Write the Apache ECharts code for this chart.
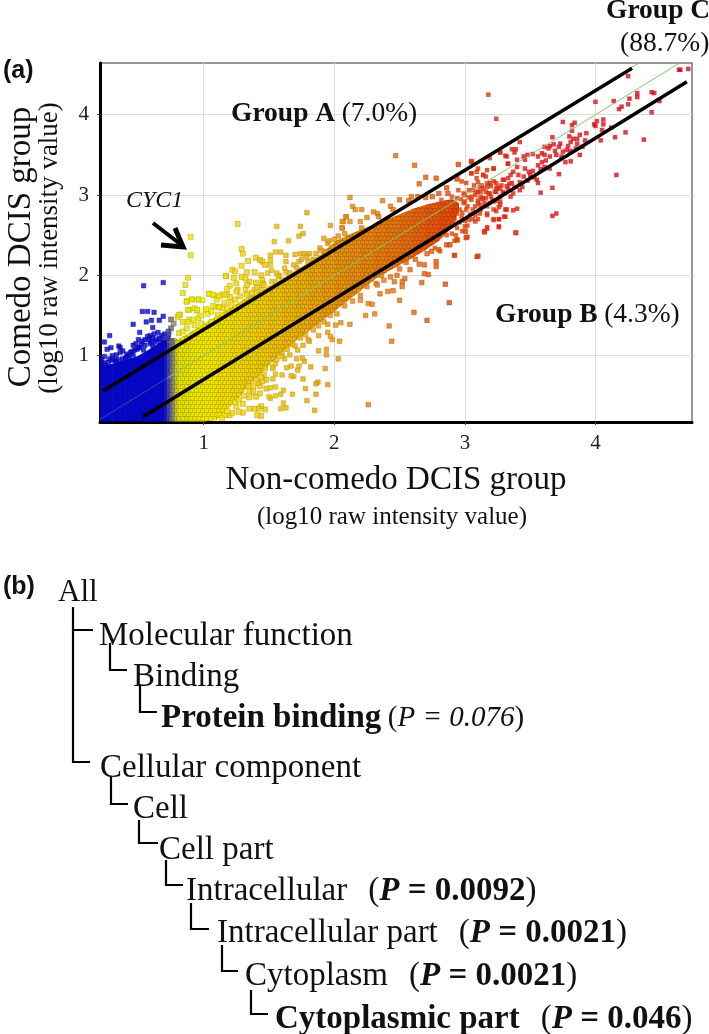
<!DOCTYPE html>
<html><head><meta charset="utf-8">
<style>html,body{margin:0;padding:0;background:#fff}#c{width:709px;height:1034px}</style>
<script src="https://cdn.jsdelivr.net/npm/echarts@6/dist/echarts.min.js"></script>
</head><body><div id="c"></div>
<script>
const tickValues=[1,2,3,4];
const xLimits=[0.206,4.739], yLimits=[0.174,4.644];
// extents of the solid part of the cloud, read column by column
const cloudX=[.206,.3,.4,.5,.6,.7,.72,.74,.76,.78,.8,.9,1,1.1,1.2,1.3,1.4,1.5,1.6,1.7,1.8,1.9,2,2.1,2.2,2.3,2.4,2.5,2.6,2.7,2.8,2.9,2.95];
const cloudLow=[.18,.18,.18,.18,.18,.18,.18,.18,.18,.18,.18,.18,.18,.2,.36,.54,.72,.88,1.04,1.18,1.3,1.43,1.55,1.68,1.81,1.94,2.04,2.13,2.22,2.32,2.43,2.6,2.8];
const cloudHigh=[.87,.9,.95,1,1.1,1.2,1.23,1.22,1.22,1.22,1.2,1.3,1.4,1.5,1.6,1.7,1.78,1.86,1.96,2.06,2.16,2.27,2.42,2.5,2.57,2.63,2.7,2.76,2.83,2.88,2.92,2.95,2.9];
// individually visible genes
const blueDots=[[.54,1.87],[.69,1.91],[.53,1.55],[.57,1.55],[.62,1.54],[.46,1.39],[.56,1.42],[.60,1.44],[.66,1.44],[.69,1.49],[.61,1.35],[.28,1.25],[.51,1.29],[.24,1.17],[.29,1.10],[.26,1.08],[.35,1.12],[.36,1.10],[.24,.99],[.36,1.04],[.46,1.13],[.50,1.20],[.59,1.25],[.65,1.29],[.48,1.15],[.44,1.04],[.51,1.10],[.54,1.07],[.58,1.20],[.61,1.22],[.68,1.25],[.33,1.01],[.28,.96],[.40,.97],[.46,1.01],[.55,1.13],[.59,1.15],[.64,1.20],[.69,1.20],[.70,1.13],[.61,1.12],[.24,.91],[.32,.95],[.49,1.08],[.42,.99],
[.22,.9],[.25,.88],[.27,.92],[.3,.94],[.33,.93],[.35,.95],[.38,.96],[.41,1.02],[.43,1],[.45,1.05],[.47,1.07],[.5,1.1],[.52,1.14],[.53,1.18],[.55,1.2],[.57,1.24],[.6,1.18],[.62,1.27],[.63,1.17],[.66,1.22],[.67,1.17],[.7,1.27],[.38,1.06],[.3,1],[.22,.95]];
const greyDots=[[.75,1.45],[.77,1.40],[.73,1.26],[.75,1.34],[.75,1.18],[.72,1.22],[.73,1.30]];
const yellowDots=[[.90,2.48],[.90,2.25],[.88,1.97],[.86,1.88],[.84,1.78],[1.17,1.99],[.87,1.68],[.91,1.70],[.96,1.70],[.99,1.69],[1.04,1.77],[1.08,1.75],[1.10,1.70],[1.14,1.76],[1.18,1.76],[1.02,1.57],[1.09,1.61],[1.14,1.59],[1.11,1.51],[1.18,1.59],[.89,1.57],[.93,1.59],[.95,1.56],[.82,1.51],[.80,1.48],[.84,1.42],[.89,1.45],[.96,1.47],[.98,1.40],[1.06,1.42],[.87,1.34],[.93,1.38],[.81,1.28],[1.26,2.64],[1.29,2.33],[1.30,2.27],[1.34,2.18],[1.40,2.22],[1.43,2.19],[1.45,2.17],[1.47,2.13],[1.29,2.12],[1.22,2.07],[1.24,2.05],[1.17,1.99],[1.23,1.97],[1.33,2.04],[1.39,2.04],[1.44,2.00],[1.29,1.98],[1.25,1.90],[1.35,1.92],[1.40,1.91],[1.45,1.94],[1.45,1.90],[1.32,1.96],[1.33,1.88],[1.20,1.87],[1.18,1.83],[1.26,1.82],[1.32,1.82],[1.39,1.82],[1.44,1.82],[1.04,1.77],[.96,1.70],[.91,1.70],[.87,1.67],[1.07,1.76],[1.12,1.74],[1.16,1.76],[1.20,1.73],[1.25,1.80],[1.07,1.62],[1.12,1.61],[.88,1.57],[.95,1.57],[1.02,1.58],[.81,1.51],[1.12,.26],[1.19,.26],[1.20,.26],[1.16,.26],[1.30,.29],[1.27,.30],[1.25,.37],[1.35,.48],[1.40,.49],[1.43,.53],[1.43,.62],[1.38,.62],[1.34,.62],[1.47,.33],[1.44,.37],[1.42,.34],[1.39,.34],[1.35,.34],[1.44,.25],[1.41,.26],[1.48,.59],[1.48,.70],[1.46,.76],[1.47,.84],
[1.14,.22],[1.18,.31],[1.22,.29],[1.24,.42],[1.27,.45],[1.3,.40],[1.31,.5],[1.35,.56],[1.38,.55],[1.42,.66],[1.45,.68],[1.44,.73],[1.4,.7],[.84,1.3],[.88,1.42],[.92,1.45],[.98,1.5],[1.03,1.52],[1.06,1.55],[1.12,1.6],[1.16,1.66],[1.21,1.66],[1.24,1.7],[1.28,1.74],[1.33,1.76],[1.37,1.78],[1.41,1.85],[1.46,1.88]];
const orangeDots=[[1.56,2.61],[1.74,2.61],[1.79,2.78],[1.76,2.52],[1.73,2.49],[1.97,2.62],[1.54,2.42],[1.65,2.43],[1.92,2.46],[2.07,2.67],[2.09,2.73],[2.06,2.59],[2.08,2.52],[2.03,2.49],[2.00,2.45],[1.51,2.25],[1.51,2.19],[1.51,2.13],[1.55,2.29],[1.59,2.29],[1.63,2.25],[1.63,2.17],[1.70,2.26],[1.74,2.27],[1.77,2.27],[1.73,2.17],[1.80,2.17],[1.81,2.27],[1.86,2.27],[1.89,2.34],[1.95,2.40],[1.96,2.43],[1.49,2.03],[1.52,2.06],[1.56,2.03],[1.62,2.09],[1.63,2.04],[1.71,2.10],[1.55,1.92],[1.60,1.94],[1.51,1.84],
[1.52,1.92],[1.58,2],[1.66,2.03],[1.69,2.13],[1.75,2.2],[1.79,2.23],[1.84,2.2],[1.9,2.31],[1.93,2.3],[1.57,1.99],[1.53,.86],[1.56,.95],[1.6,1.03],[1.64,1.08],[1.68,1.14],[1.74,1.22],[1.78,1.26],[1.84,1.32],[1.88,1.37],[1.92,1.42],[1.97,1.5],[2.02,1.52],[2.08,1.62],[2.14,1.68],[2.2,1.75],[2.25,1.86],[2.32,1.9],[2.36,2],[2.43,1.98],[2.5,2.08],[2.55,2.16],[2.62,2.2],[1.55,.9],[1.62,.96],[1.7,1.12],[1.8,1.2],
[2.26,.39],[1.85,.32],[1.79,.44],[1.86,.52],[1.95,.64],[1.875,.67],[1.86,.65],[1.78,.59],[1.68,.52],[1.63,.35],[1.59,.34],[1.61,.41],[1.55,.50],[1.51,.47],[1.50,.49],[1.59,.52],[1.61,.57],[1.55,.61],[1.51,.60],[1.76,.71],[1.69,.74],[1.67,.75],[1.60,.76],[1.55,.77],[1.53,.71],[1.53,.84],[1.60,.99],[1.635,.85],[1.67,.87],[1.72,.82],[1.73,.87],[1.82,.86],[1.93,.84],[2.03,.96],[1.94,1.01],[1.88,1.06],[1.94,1.08],[1.77,.93],[1.755,.97],[1.71,.96],[1.66,1.01],[1.72,1.07],[2.04,1.18],[1.985,1.20],[1.97,1.24],[1.95,1.29],[1.88,1.25],[1.81,1.18],[1.76,1.13],[2.12,1.39],[2.05,1.41],[2.01,1.38],[1.95,1.39],[2.24,1.50],[2.31,1.52],[2.42,1.37],[2.44,1.18],[2.20,1.69],[2.26,1.65],[2.29,1.64],[2.71,1.44],[2.61,1.54],[2.50,1.69],[2.88,1.66],[2.85,1.89],[2.67,1.91],[2.52,1.86],[2.41,1.80],[2.45,1.81],[2.35,1.77],[2.52,1.92],[2.46,1.92],[2.54,1.96],[2.69,2.02],[2.72,2.01],[2.48,2.00],[2.38,1.94],[2.33,1.88],[2.78,2.11],[2.78,2.17],[2.69,2.13],[2.65,2.14],[2.58,2.07],[2.92,2.25],[3.10,2.24],[2.80,2.32],[2.86,2.38],[2.885,2.38],[2.745,2.30],[2.71,2.27],[3.01,2.47],[3.005,2.55],[3.15,2.54],[3.39,2.53],[2.94,2.44],
[2.47,3.49],[2.615,3.37],[2.95,3.38],[3.05,3.42],[2.70,3.22],[2.78,3.21],[2.65,3.14],[2.12,2.97],[2.14,2.86],[2.16,2.82],[2.21,2.82],[2.37,2.93],[2.50,2.94],[2.43,2.86],[2.45,2.82],[2.30,2.79],[2.33,2.77],[2.34,2.73],[2.09,2.73],[2.12,2.67],[2.20,2.67],[2.25,2.72],[2.06,2.67],[2.06,2.59],[2.21,2.59],[2.59,2.98],[2.64,2.98],[2.57,2.93],[2.70,2.97],[2.75,2.98],[2.80,3.02],[2.86,3.09],[2.87,3.02],[2.94,3.20]];
const redDots=[[3.05,3.27],[3.14,3.25],[3.22,3.33],[3.17,3.31],[3.27,3.53],[3.33,3.39],[3.31,3.49],[2.975,3.17],[3.01,3.15],[3.09,3.21],[3.10,3.04],[3.20,3.11],[3.27,2.98],[3.31,2.82],[3.31,2.73],[3.26,2.70],[3.22,2.70],[3.26,2.61],[3.17,2.60],[3.15,2.55],[3.02,2.48],[2.94,2.45],[2.92,2.43],[2.92,2.25],[3.09,2.23],[2.81,2.30],[2.77,2.34],[2.99,3.02],[3.03,3.06],[3.08,3.0],[3.115,3.10],[3.17,3.15],[3.24,3.15],[3.29,3.19],[3.32,3.11],[3.19,3.02],[3.14,2.96],[3.24,3.04],[3.29,3.04],[3.115,2.88],[3.17,2.86],[3.22,2.92],[3.08,2.86],[3.01,2.82],[3.08,2.75],[3.115,2.77],[3.17,2.75],[3.03,2.69],[3.08,2.67],[3.0,2.61],[2.94,2.96],[2.99,2.90],[2.91,2.88],[2.94,2.77],[2.975,2.73],[2.91,2.67],[2.94,2.59],[2.86,2.50],[2.90,2.52],[3.05,2.94],[2.95,3.06],[2.90,2.98],[2.82,2.94],[2.86,2.84],[2.81,2.75],[3.27,2.88],[3.22,2.82],
[2.96,2.82],[2.98,2.78],[2.97,2.95],[3,2.92],[3.02,2.86],[3.04,2.76],[3.06,2.82],[3,2.68],[3.02,2.62],[3.06,2.7],[3.1,2.9],[3.12,2.82],[3.1,2.7],[3.13,2.95],[3,3],[3.03,2.97],[2.96,2.66],[2.93,2.5],[2.98,2.55],[2.92,2.7],[3.07,3.12],[3.1,3.16],[3.13,3.12],[3.16,3.04],[3.2,2.98],[3.25,3.1],[3.28,3.12],[3.12,3.04],[3.16,2.96],[3.19,2.9],[3.06,3.06],[3.1,2.93],[3.24,2.93],[3.27,3.08],[3.33,3.08],[3.36,3.15],[3.38,3.1],[3.42,3.16],[3.34,3.14],[3.44,3.1],[3.48,3.18],[3.52,3.3],[3.53,3.22],[3.58,3.32],[3.62,3.43],[3.69,3.55],[3.7,3.5],[3.72,3.6],[3.85,3.58],[3.9,3.6],
[4.71,4.57],[4.65,4.56],[4.64,4.56],[4.25,4.48],[4.43,4.28],[4.45,4.27],[4.32,4.27],[4.32,4.22],[4.26,4.20],[4.25,4.13],[4.14,4.17],[4.00,4.16],[4.49,4.17],[4.43,4.03],[4.20,4.10],[4.18,4.07],[3.18,4.25],[3.24,3.95],[3.75,3.91],[3.84,3.90],[3.82,3.87],[3.82,3.80],[4.01,3.92],[4.06,3.94],[4.06,3.88],[3.99,3.88],[4.00,3.86],[4.05,3.81],[4.12,3.84],[4.23,3.78],[4.15,3.72],[4.04,3.68],[4.37,3.69],[4.16,3.25],[3.93,3.77],[3.92,3.68],[3.88,3.75],[3.86,3.70],[3.83,3.70],[3.80,3.73],[3.81,3.66],[3.86,3.64],[3.79,3.61],[3.75,3.54],[3.78,3.56],[3.81,3.55],[3.67,3.72],[3.73,3.64],[3.68,3.63],[3.65,3.61],[3.61,3.60],[3.64,3.58],[3.59,3.52],[3.56,3.48],[3.61,3.50],[3.65,3.48],[3.59,3.41],[3.56,3.37],[3.61,3.35],[3.65,3.33],[3.72,3.26],[3.81,3.42],[3.77,3.41],[3.74,3.48],[3.88,3.50],[3.42,3.66],[3.36,3.57],[3.39,3.57],[3.38,3.53],[3.27,3.53],[3.19,3.46],[3.32,3.48],[3.45,3.48],[3.48,3.50],[3.52,3.51],[3.46,3.44],[3.40,3.44],[3.33,3.39],[3.40,3.35],[3.22,3.33],[3.09,3.29],[3.10,3.33],[3.05,3.41],[3.05,3.27],[3.14,3.25],[3.16,3.23],[3.46,3.33],[3.49,3.29],[3.37,3.29],[3.35,3.25],[3.41,3.25],[3.30,3.19],[3.33,3.21],[3.50,3.25],[3.45,3.23],[3.55,3.19],[3.56,3.15],[3.67,3.09],[3.58,3.03],[3.42,3.06],[3.37,3.02],[3.35,2.98],[3.27,2.92],[3.26,2.85],[3.30,3.02],[3.24,3.08],[3.19,3.15],[3.17,3.10],[3.22,3.17],[3.14,3.08],[3.09,3.04],[3.05,2.98],[3.12,2.98],[3.18,3.02],[3.23,3.04],[3.21,2.94],[3.15,2.90],[3.17,2.77],[3.24,2.80],[3.32,2.82],[3.37,2.81],[3.40,2.83],[3.30,2.73],[3.26,2.70],[3.22,2.69],[3.67,2.74],[3.70,2.77],[3.17,2.58],[3.26,2.60]];
// reference lines: equal expression and the two-fold limits
const centreLow=[[.206,.206],[.72,.72]];
const centreHigh=[[.72,.72],[4.74,4.74]];
const foldUpGreen=[[.229,.56],[4.34,4.65]];
const foldUp=[[.229,.56],[4.28,4.58]];
const foldDown=[[.534,.235],[4.70,4.41]];
const colourAt=[.2,.7,.74,.77,.8,1,1.5,2,2.5,3,3.5,4.7];
const colourAtHex=['#0606c4','#0606c4','#555590','#8f8f58','#d8d400','#e8e000','#e2bc08','#dc900c','#dc6c0c','#dc3c08','#d41414','#d00c20'];

function hex(h){return [1,3,5].map(i=>parseInt(h.slice(i,i+2),16));}
function colour(x){
  let i=0; while(i<colourAt.length-2&&x>colourAt[i+1])i++;
  const t=Math.min(1,Math.max(0,(x-colourAt[i])/(colourAt[i+1]-colourAt[i])));
  const a=hex(colourAtHex[i]),b=hex(colourAtHex[i+1]);
  return a.map((v,k)=>Math.round(v+(b[k]-v)*t));
}
const css=(c,f=1)=>`rgb(${c.map(v=>Math.min(255,Math.round(v*f))).join(',')})`;
const tiles={};
function tile(x){
  const c=colour(x),key=c.join();
  if(tiles[key])return tiles[key];
  const cv=document.createElement('canvas');cv.width=cv.height=8;
  const g=cv.getContext('2d');
  const isBlue=x<.72;
  g.fillStyle=css(c,isBlue?.95:.86);g.fillRect(0,0,8,8);
  g.fillStyle=css(c,isBlue?1.02:1.03);
  [[1,1],[5,1],[3,5],[-1,5],[7,5]].forEach(p=>g.fillRect(p[0],p[1],3,3));
  return tiles[key]={image:cv,repeat:'repeat'};
}
const cloudRows=cloudX.slice(0,-1).map((x,i)=>[x,cloudLow[i],cloudHigh[i],cloudX[i+1],cloudLow[i+1],cloudHigh[i+1]]);

function dots(data,size,inner,edge,bw){
  return {type:'scatter',symbol:'rect',symbolSize:size,z:3,silent:true,animation:false,
    data:data.map(v=>{const c=colour(v[0]);return {value:v,itemStyle:{color:css(c,inner),borderColor:css(c,edge),borderWidth:bw}};})};
}
function line(data,color,width,z){
  return {type:'line',data,symbol:'none',z,silent:true,animation:false,lineStyle:{color,width}};
}
const serif='"Liberation Serif"',sans='"Liberation Sans"';
function txt(x,y,text,rich){
  return {type:'text',x,y,z:20,silent:true,style:{text,rich,fill:'#111',align:'left',verticalAlign:'middle',font:`26px ${serif}`}};
}
const R=(size,o)=>Object.assign({fontFamily:serif,fontSize:size,fill:'#111'},o||{});
const richOf=(s,italicSize)=>({n:R(s),b:R(s,{fontWeight:'bold'}),s:R(42),p:R(italicSize||s),i:R(italicSize||s,{fontStyle:'italic'}),bi:R(s,{fontWeight:'bold',fontStyle:'italic'})});
const treeLabels=['{n|All}','{n|Molecular function}','{n|Binding}','{b|Protein binding} {p|(}{i|P = 0.076}{p|)}','{n|Cellular component}','{n|Cell}','{n|Cell part}','{n|Intracellular}{s|  }{n|(}{bi|P}{b| = 0.0092}{n|)}','{n|Intracellular part}{s|  }{n|(}{bi|P}{b| = 0.0021}{n|)}','{n|Cytoplasm}{s|  }{n|(}{bi|P}{b| = 0.0021}{n|)}','{b|Cytoplasmic part}{s|  }{n|(}{bi|P}{b| = 0.046}{n|)}'];
const treeLeft=[58,99,133,161,100,133,159,186,217,245,275];
const treeTop=[593,636,677,718,768,809,850,891,933,976,1019];
const treeSize=[31,33,33,33,33,33,33,33,33,33,33];
const elbows=[[73,607,630,93],[73,630,762,90],[110,643,670,127],[140,684,712,157],[111,777,804,128],[139,820,843,158],[166,860,885,183],[191,903,929,209],[222,945,971,238],[251,990,1014,268]];

const graphics=[
 {type:'text',x:3,y:71,z:20,silent:true,style:{text:'(a)',fill:'#111',font:`bold 25px ${sans}`,verticalAlign:'middle'}},
 {type:'text',x:3,y:587,z:20,silent:true,style:{text:'(b)',fill:'#111',font:`bold 25px ${sans}`,verticalAlign:'middle'}},
 txt(231,114,'{b|Group A} {n|(7.0%)}',{b:R(27.5,{fontWeight:'bold'}),n:R(27.5)}),
 txt(495,315,'{b|Group B} {n|(4.3%)}',{b:R(27.5,{fontWeight:'bold'}),n:R(27.5)}),
 txt(606,11,'{b|Group C}',{b:R(27.5,{fontWeight:'bold'})}),
 txt(620,44,'{n|(88.7%)}',{n:R(27.5)}),
 txt(126,201,'{i|CYC1}',{i:R(24,{fontStyle:'italic'})}),
 {type:'polyline',z:20,silent:true,shape:{points:[[153,223],[184,247]]},style:{stroke:'#000',lineWidth:4,fill:null}},
 {type:'polyline',z:20,silent:true,shape:{points:[[175,228],[183,247],[161,245]]},style:{stroke:'#000',lineWidth:5,fill:null}},
 {type:'text',x:396,y:480,z:20,silent:true,style:{text:'Non-comedo DCIS group',fill:'#111',font:`33px ${serif}`,align:'center',verticalAlign:'middle'}},
 {type:'text',x:392,y:517,z:20,silent:true,style:{text:'(log10 raw intensity value)',fill:'#111',font:`25px ${serif}`,align:'center',verticalAlign:'middle'}},
 {type:'text',x:21,y:247,z:20,silent:true,rotation:Math.PI/2,style:{text:'Comedo DCIS group',fill:'#111',font:`33px ${serif}`,align:'center',verticalAlign:'middle'}},
 {type:'text',x:50,y:248,z:20,silent:true,rotation:Math.PI/2,style:{text:'(log10 raw intensity value)',fill:'#111',font:`27px ${serif}`,align:'center',verticalAlign:'middle'}}
];
treeLabels.forEach((t,i)=>graphics.push(txt(treeLeft[i],treeTop[i],t,richOf(treeSize[i],i===3?29:0))));
elbows.forEach(e=>graphics.push({type:'polyline',z:19,silent:true,shape:{points:[[e[0],e[1]],[e[0],e[2]],[e[3],e[2]]]},style:{stroke:'#000',lineWidth:2.2,fill:null}}));

const chart=echarts.init(document.getElementById('c'),null,{renderer:'canvas'});
const axisBase={type:'value',axisLine:{show:true,lineStyle:{color:'#000',width:3}},
  axisTick:{show:true,length:3,inside:false,customValues:tickValues,lineStyle:{color:'#444',width:1}},
  axisLabel:{customValues:tickValues,color:'#222',fontFamily:serif,fontSize:21,margin:11},
  splitLine:{show:true,lineStyle:{color:'#dcdce2',width:1}}};
chart.setOption({
 animation:false,
 backgroundColor:'#fff',
 grid:{left:100,right:17,top:63,bottom:612,show:true,borderColor:'#777',borderWidth:1.5,backgroundColor:'#fff'},
 xAxis:Object.assign({},axisBase,{min:xLimits[0],max:xLimits[1]}),
 yAxis:Object.assign({},axisBase,{min:yLimits[0],max:yLimits[1]}),
 series:[
  {type:'custom',data:cloudRows,z:2,silent:true,clip:true,animation:false,
   renderItem:(p,api)=>{
    const x0=api.value(0),x1=api.value(3);
    const a=api.coord([x0,api.value(1)]),b=api.coord([x0,api.value(2)]),c=api.coord([x1,api.value(5)]),d=api.coord([x1,api.value(4)]);
    const pad=.6;
    return {type:'polygon',shape:{points:[a,b,[c[0]+pad,c[1]],[d[0]+pad,d[1]]]},style:{fill:tile((x0+x1)/2),stroke:null}};
   }},
  dots(blueDots,4.5,1,.9,.5),dots(greyDots,5,1,.85,.7),dots(yellowDots,5,1.05,.82,.7),dots(orangeDots,4.5,1.03,.88,.7),dots(redDots,4.5,1,1,0),
  line(centreLow,'#3c4aa0',1,6),line(centreHigh,'#86c46c',1,6),line(foldUpGreen,'#86c46c',1,6),
  line(foldUp,'#000',3.5,7),line(foldDown,'#000',3.5,7)
 ],
 graphic:graphics
});
</script></body></html>
